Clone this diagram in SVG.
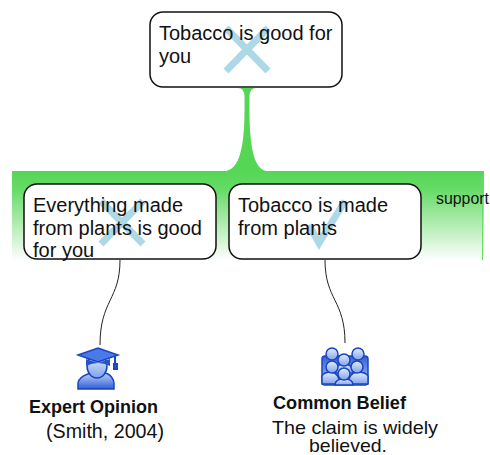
<svg xmlns="http://www.w3.org/2000/svg" width="490" height="455" viewBox="0 0 490 455">
<style>
text{font-family:"Liberation Sans",Arial,sans-serif;fill:#111}
.t{font-size:20px}
.box{fill:#fff;stroke:#111;stroke-width:1.5}
.mark{fill:none;stroke:#add8e6;stroke-width:7}
.link{fill:none;stroke:#222;stroke-width:1}
.ic{stroke:#1a45c0;stroke-width:1.5}
</style>
<defs>
<linearGradient id="g" x1="0" y1="171" x2="0" y2="261" gradientUnits="userSpaceOnUse">
<stop offset="0" stop-color="#55d655"/><stop offset="0.2" stop-color="#66db66"/><stop offset="1" stop-color="#fff"/>
</linearGradient>
<linearGradient id="b" x1="0" y1="0" x2="0" y2="1">
<stop offset="0" stop-color="#c8d8f8"/><stop offset="1" stop-color="#2f5fd8"/>
</linearGradient>
<linearGradient id="b2" x1="0" y1="0" x2="0" y2="1">
<stop offset="0" stop-color="#2f5fd8"/><stop offset="1" stop-color="#b4c8f4"/>
</linearGradient>
<linearGradient id="h" x1="0" y1="0" x2="0" y2="1">
<stop offset="0" stop-color="#e6eefc"/><stop offset="1" stop-color="#7fa2ec"/>
</linearGradient>
</defs>
<g id="connectors">
<path id="support-link" d="M238 88Q244 88 244.500 96C245 135 243 168 226 171H12V260H484V171H266C251 168 249 135 249.500 96Q250 88 256 88Z" fill="url(#g)"/>
<path d="M482.500 176V260" stroke="#66dd66" stroke-width="1" fill="none"/>
<path class="link" d="M120 260C120 300 100 300 100 345"/>
<path class="link" d="M325 260C325 300 345 300 345 343"/>
</g>
<g id="node-claim">
<rect class="box" x="150" y="12" width="192" height="75" rx="13"/>
<path class="mark" d="M226 28L268 71M268 28L226 71"/>
<text class="t" x="159" y="40">Tobacco is good for</text>
<text class="t" x="159" y="63">you</text>
</g>
<g id="node-premise1">
<rect class="box" x="24" y="184" width="192" height="75" rx="13"/>
<path class="mark" d="M101 201L143 244M143 201L101 244"/>
<text class="t" x="33" y="212">Everything made</text>
<text class="t" x="33" y="235">from plants is good</text>
<text class="t" x="33" y="257">for you</text>
</g>
<g id="node-premise2">
<rect class="box" x="229" y="184" width="192" height="75" rx="13"/>
<path class="mark" d="M309 225L319 243L345 201"/>
<text class="t" x="238" y="212">Tobacco is made</text>
<text class="t" x="238" y="235">from plants</text>
</g>
<text id="support-label" x="436" y="204" font-size="17" textLength="53" lengthAdjust="spacingAndGlyphs">support</text>
<g id="node-expert">
<path class="ic" fill="url(#b)" d="M78 389V383Q79 377 88 374L94 372H102L108 374Q113 377 114 383V389Z"/>
<ellipse class="ic" cx="97" cy="366" rx="10" ry="12" fill="url(#h)"/>
<path fill="#2a52c8" d="M86 359L98 363L110 359V366Q98 360 86 366Z"/>
<path class="ic" fill="#4a7ae8" d="M78 355L98 348L118 355L98 362Z"/>
<path stroke="#1a45c0" stroke-width="2" fill="#2f5fd8" d="M115 356V364M114 364H117V369H114Z"/>
<text x="29" y="413" font-size="18" font-weight="bold" textLength="129" lengthAdjust="spacingAndGlyphs">Expert Opinion</text>
<text x="46" y="438" font-size="20" textLength="118" lengthAdjust="spacingAndGlyphs">(Smith, 2004)</text>
</g>
<g id="node-common">
<rect class="ic" x="322" y="356" width="46" height="29" rx="3" fill="url(#b2)"/>
<g fill="url(#h)" stroke="#1a45c0" stroke-width="1.500">
<circle cx="332" cy="354" r="6"/><circle cx="358" cy="354" r="6"/>
<path d="M335 373Q335 364 344 364Q353 364 353 373Z"/>
<circle cx="344" cy="360" r="6"/>
<path d="M322 384V376Q324 372 331 372Q339 373 340 384Z"/>
<path d="M348 384Q349 373 357 372Q366 372 368 376V384Z"/>
<circle cx="332" cy="367" r="6"/><circle cx="357" cy="367" r="6"/>
<path d="M335 385Q335 379 344 379Q353 379 353 385Z"/>
<circle cx="344" cy="374" r="6"/>
</g>
<text x="273" y="409" font-size="18" font-weight="bold" textLength="133" lengthAdjust="spacingAndGlyphs">Common Belief</text>
<text x="272" y="434" font-size="19" textLength="166" lengthAdjust="spacingAndGlyphs">The claim is widely</text>
<text x="309" y="452" font-size="19" textLength="78" lengthAdjust="spacingAndGlyphs">believed.</text>
</g>
</svg>
